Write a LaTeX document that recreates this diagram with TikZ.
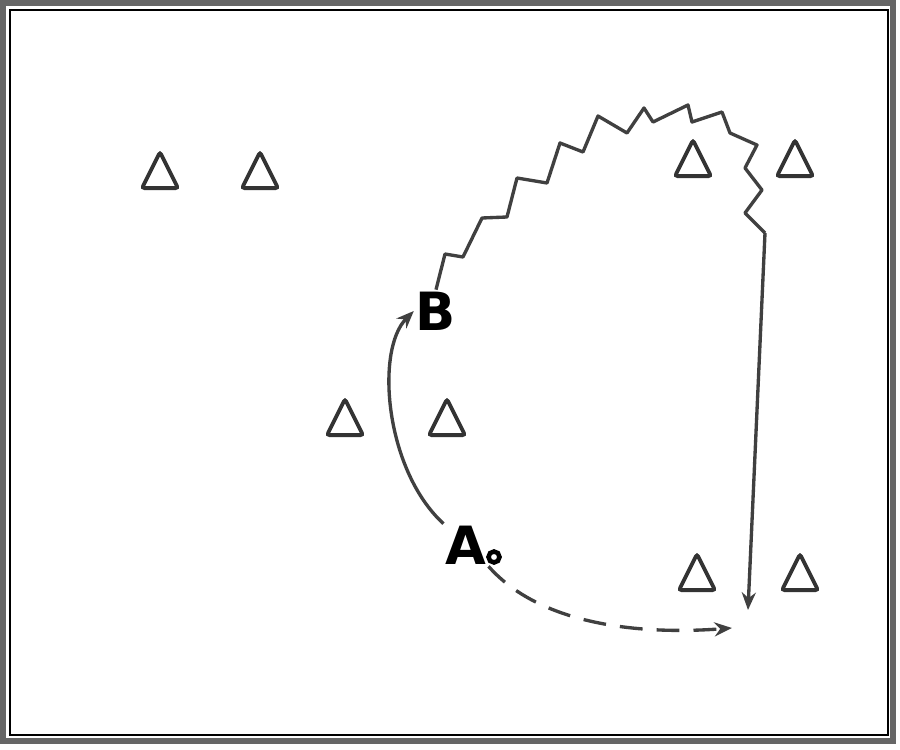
\documentclass[tikz,border=0pt]{standalone}
\usepackage{fontspec}
\setsansfont{DejaVu Sans}
\usetikzlibrary {arrows.meta}
\usetikzlibrary{shapes.geometric}

\tikzset{
  cone/.style={draw=black!80, line width=2.2pt, rounded corners=1.5pt, isosceles triangle,
    isosceles triangle stretches, shape border rotate=90,
    minimum width=0.72cm, minimum height=0.72cm, inner sep=0pt},
  player/.style={font=\sffamily\bfseries\fontsize{30}{30}\selectfont, inner sep=1pt},
  run/.style={draw=black!75, line width=1.9pt, line join=round},
  tip/.style={-{Stealth[length=10pt, width=8pt]}}
}

\begin{document}
\begin{tikzpicture}[x=0.02cm, y=-0.02cm]

        \useasboundingbox (0,0) rectangle (900,750);

        \draw[line width=3pt, black!60] (3,3) rectangle (893,741);
        \draw[thick] (10,10) rectangle (888,735);

        \node[cone] (c1) at (160,177) {};
        \node[cone] (c2) at (260,177) {};
        \node[cone] (c3) at (345,424) {};
        \node[cone] (c4) at (447,424) {};
        \node[cone] (c5) at (693,165) {};
        \node[cone] (c6) at (795,165) {};
        \node[cone] (c7) at (697,579) {};
        \node[cone] (c8) at (800,579) {};

        \node[player] (B) at (436,311) {B};
        \node[player] (A) at (466,545) {A};
        \node[draw, circle, line width=2.6pt, minimum size=0.22cm, inner sep=0pt] (Aring) at (494,557) {};

        \coordinate (turn) at (765,233);
        \coordinate (stop) at (748,610);
        \coordinate (pass) at (732,628);

        \draw[run, tip] (A.north west) .. controls (385,470) and (375,350) .. (B.west);
        \draw[run, tip, dash pattern=on 13pt off 8pt] (A.south east) .. controls (540,625) and (640,635) .. (pass);

        \draw[run] (B.north) -- (445,254) -- (463,257) -- (482,218) -- (507,217) -- (517,178)
          -- (547,183) -- (560,143) -- (583,152) -- (598,116) -- (627,133) -- (644,108)
          -- (653,122) -- (688,105) -- (692,122) -- (722,112) -- (730,133) -- (757,145)
          -- (745,168) -- (762,190) -- (745,213) -- (turn);
        \draw[run, tip] (turn) -- (stop);

      \end{tikzpicture}
\end{document}
